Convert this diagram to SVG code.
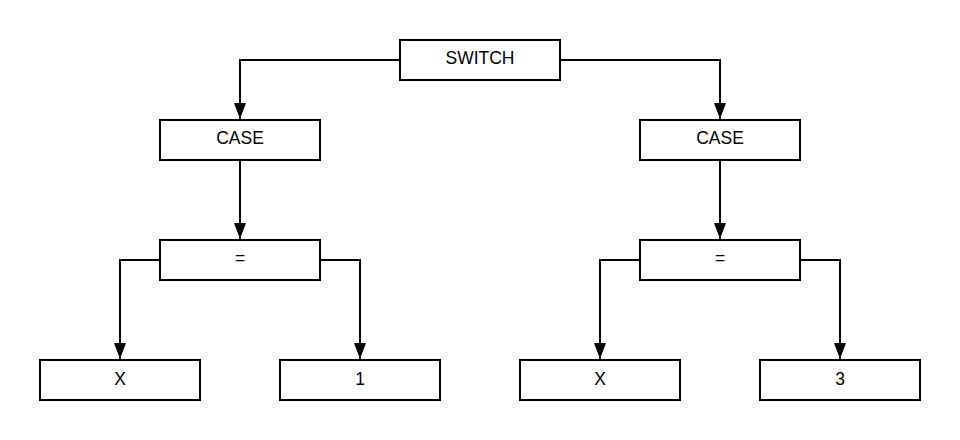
<svg xmlns="http://www.w3.org/2000/svg" width="960" height="440" viewBox="0 0 960 440">
<style>
.n rect{fill:#fff;stroke:#000;stroke-width:2}
.n text{font-family:"Liberation Sans",Arial,sans-serif;font-size:17.5px;fill:#000;text-anchor:middle}
.c path{fill:none;stroke:#000;stroke-width:2}
</style>
<defs>
<marker id="a" viewBox="0 0 16 12" refX="16" refY="6" markerWidth="16" markerHeight="12" markerUnits="userSpaceOnUse" orient="auto">
<path d="M0,0 L16,6 L0,12 Z" fill="#000"/>
</marker>
</defs>
<rect width="960" height="440" fill="#fff"/>
<g class="c">
<path d="M400,60 H240 V119" marker-end="url(#a)"/>
<path d="M560,60 H720 V119" marker-end="url(#a)"/>
<path d="M240,160 V239" marker-end="url(#a)"/>
<path d="M720,160 V239" marker-end="url(#a)"/>
<path d="M160,260 H120 V359" marker-end="url(#a)"/>
<path d="M320,260 H360 V359" marker-end="url(#a)"/>
<path d="M640,260 H600 V359" marker-end="url(#a)"/>
<path d="M800,260 H840 V359" marker-end="url(#a)"/>
</g>
<g id="switch" class="n"><rect x="400" y="40" width="160" height="40"/><text x="480" y="64">SWITCH</text></g>
<g id="case1" class="n"><rect x="160" y="120" width="160" height="40"/><text x="240" y="144">CASE</text></g>
<g id="case2" class="n"><rect x="640" y="120" width="160" height="40"/><text x="720" y="144">CASE</text></g>
<g id="eq1" class="n"><rect x="160" y="240" width="160" height="40"/><text x="240" y="264">=</text></g>
<g id="eq2" class="n"><rect x="640" y="240" width="160" height="40"/><text x="720" y="264">=</text></g>
<g id="x1" class="n"><rect x="40" y="360" width="160" height="40"/><text x="120" y="385">X</text></g>
<g id="one" class="n"><rect x="280" y="360" width="160" height="40"/><text x="360" y="385">1</text></g>
<g id="x2" class="n"><rect x="520" y="360" width="160" height="40"/><text x="600" y="385">X</text></g>
<g id="three" class="n"><rect x="760" y="360" width="160" height="40"/><text x="840" y="385">3</text></g>
</svg>
